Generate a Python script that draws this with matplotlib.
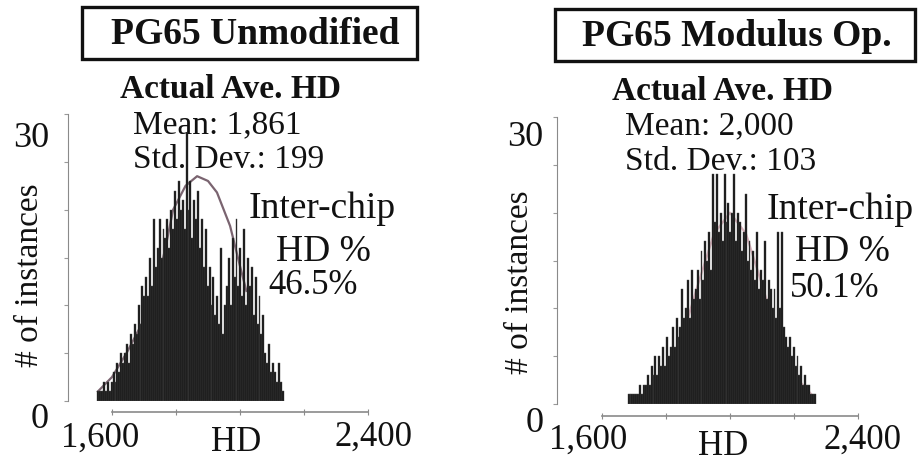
import numpy as np
import matplotlib
matplotlib.use("Agg")
import matplotlib.pyplot as plt
from matplotlib.patches import Rectangle

plt.rcParams['font.family'] = ['Liberation Serif', 'DejaVu Serif']

W, H = 922, 464
BIN = 6  # HD per bin

# Unmodified PG65: counts per 6-HD bin starting at 1554
unmod_start = 1554
unmod_counts = [1, 1, 1, 2, 1, 2, 1,
                2, 3, 2, 4, 3, 5, 4,
                5, 6, 4, 7, 6, 8,
                7, 10, 8, 12, 11,
                13, 11, 15, 12, 19, 14,
                16, 19, 15, 18, 17,
                19, 16, 20, 18, 22,
                19, 23, 20, 21, 18, 28,
                20, 23, 17, 21, 19,
                22, 16, 19, 14, 18,
                12, 14, 10, 13, 9,
                11, 8, 16, 7, 10,
                12, 15, 10, 17, 13,
                19, 12, 16, 11, 18,
                10, 15, 12, 14, 9,
                13, 8, 11, 7, 9,
                5, 4, 6, 3, 4,
                3, 2, 4, 2, 1]
unmod_fit_x = [1556, 1600, 1647, 1700, 1740, 1770, 1791, 1830, 1866, 1900, 1928, 1969, 2000, 2020]
unmod_fit_y = [1.0, 2.5, 5.1, 8.5, 12.0, 16.5, 20.0, 22.5, 23.5, 23.0, 21.8, 18.3, 14.1, 11.5]

# Modulus-op PG65: counts per 6-HD bin starting at 1680
mod_start = 1680
mod_counts = [1, 1, 1, 1, 1,
              1, 2, 1, 2, 2,
              3, 2, 4, 3, 5,
              3, 5, 4, 6, 4,
              7, 5, 6, 8, 6,
              9, 7, 8, 12, 9,
              10, 13, 9, 14, 11,
              12, 14, 11, 16, 13,
              17, 15, 18, 14, 24,
              19, 24, 18, 20, 17,
              24, 19, 21, 18, 20,
              24, 17, 20, 19, 16,
              18, 22, 15, 17, 14,
              16, 13, 18, 12, 14,
              13, 17, 11, 13, 12,
              10, 12, 9, 18, 10,
              18, 8, 7, 6, 7,
              5, 6, 4, 5, 3,
              4, 2, 3, 2, 2,
              1, 1, 1]
mod_fit_x = [1690, 1750, 1800, 1850, 1900, 1950, 2000, 2050, 2100, 2150, 2200, 2260]
mod_fit_y = [0.2, 1.0, 3.0, 6.9, 12.5, 17.8, 20.0, 17.8, 12.5, 6.9, 3.0, 0.8]

panels = [
    dict(title="PG65 Unmodified", start=unmod_start, counts=unmod_counts,
         fit_x=unmod_fit_x, fit_y=unmod_fit_y, fit_color="#7a6470",
         mean="Mean: 1,861", std="Std. Dev.: 199", pct="46.5%",
         ax_px=(68, 368, 115, 402), xaxis_drop=11,
         box=(82, 8, 417, 60), title_xy=(255, 34), actual_xy=(230, 89),
         mean_xy=(133, 125), std_xy=(133, 160),
         inter_xy=(322, 209), hd_xy=(323, 252), pct_xy=(313, 285),
         ylab_xy=(30, 275), y30_xy=(31, 139), y0_xy=(40, 420),
         x1_xy=(100, 438), xhd_xy=(236, 443), x2_xy=(373, 437)),
    dict(title="PG65 Modulus Op.", start=mod_start, counts=mod_counts,
         fit_x=mod_fit_x, fit_y=mod_fit_y, fit_color="#d9b4bd",
         mean="Mean: 2,000", std="Std. Dev.: 103", pct="50.1%",
         ax_px=(557, 858, 118, 405), xaxis_drop=12,
         box=(555, 10, 915, 62), title_xy=(737, 36), actual_xy=(722, 92),
         mean_xy=(625, 126), std_xy=(625, 162),
         inter_xy=(840, 210), hd_xy=(842, 252), pct_xy=(835, 289),
         ylab_xy=(520, 282), y30_xy=(525, 138), y0_xy=(535, 424),
         x1_xy=(588, 440), xhd_xy=(723, 447), x2_xy=(862, 440)),
]

fig = plt.figure(figsize=(W / 100, H / 100), dpi=100)


def ftext(xy, s, **kw):
    fig.text(xy[0] / W, 1 - xy[1] / H, s, va='center', color='#111111', **kw)


for p in panels:
    x0, x1, ytop, ybot = p['ax_px']
    ax = fig.add_axes([x0 / W, 1 - ybot / H, (x1 - x0) / W, (ybot - ytop) / H])
    # the y spine sits left of the HD range; 0.32 px per HD unit
    left_px = (x1 - x0) - 800 * 0.32
    ax.set_xlim(1600 - left_px / 0.32, 2400)
    ax.set_ylim(0, 30)

    edges = p['start'] + BIN * np.arange(len(p['counts']))
    ax.plot(p['fit_x'], p['fit_y'], color=p['fit_color'], lw=1.6, zorder=1)
    ax.bar(edges, p['counts'], width=BIN, align='edge',
           color='#141414', edgecolor='#4a4a4a', linewidth=0.3, zorder=2)

    for side in ('top', 'right'):
        ax.spines[side].set_visible(False)
    ax.spines['left'].set_bounds(0, 30)
    ax.spines['left'].set_color('#8a8a8a')
    ax.spines['bottom'].set_bounds(1600, 2400)
    ax.spines['bottom'].set_position(('outward', p['xaxis_drop'] * 0.72))
    ax.spines['bottom'].set_color('#8a8a8a')
    ax.spines['bottom'].set_linewidth(1.2)
    ax.set_yticks(np.arange(0, 31, 5))
    ax.set_xticks(np.arange(1600, 2401, 200))
    ax.tick_params(axis='y', length=3, color='#9a9a9a', labelleft=False)
    ax.tick_params(axis='x', direction='inout', length=5, color='#8a8a8a', labelbottom=False)
    ax.patch.set_alpha(0)

    bx0, by0, bx1, by1 = p['box']
    fig.patches.append(Rectangle((bx0 / W, 1 - by1 / H), (bx1 - bx0) / W, (by1 - by0) / H,
                                 transform=fig.transFigure, fill=False,
                                 edgecolor='#111111', linewidth=2.4))
    ftext(p['title_xy'], p['title'], ha='center', fontsize=27, fontweight='bold')
    ftext(p['actual_xy'], "Actual Ave. HD", ha='center', fontsize=24, fontweight='bold')
    ftext(p['mean_xy'], p['mean'], ha='left', fontsize=24)
    ftext(p['std_xy'], p['std'], ha='left', fontsize=24)
    ftext(p['inter_xy'], "Inter-chip", ha='center', fontsize=27)
    ftext(p['hd_xy'], "HD %", ha='center', fontsize=27)
    ftext(p['pct_xy'], p['pct'], ha='center', fontsize=25)
    ftext(p['ylab_xy'], "# of instances", ha='center', fontsize=24, rotation=90)
    ftext(p['y30_xy'], "30", ha='center', fontsize=26)
    ftext(p['y0_xy'], "0", ha='center', fontsize=26)
    ftext(p['x1_xy'], "1,600", ha='center', fontsize=25)
    ftext(p['xhd_xy'], "HD", ha='center', fontsize=25)
    ftext(p['x2_xy'], "2,400", ha='center', fontsize=25)

fig.savefig("out.png", dpi=100)
